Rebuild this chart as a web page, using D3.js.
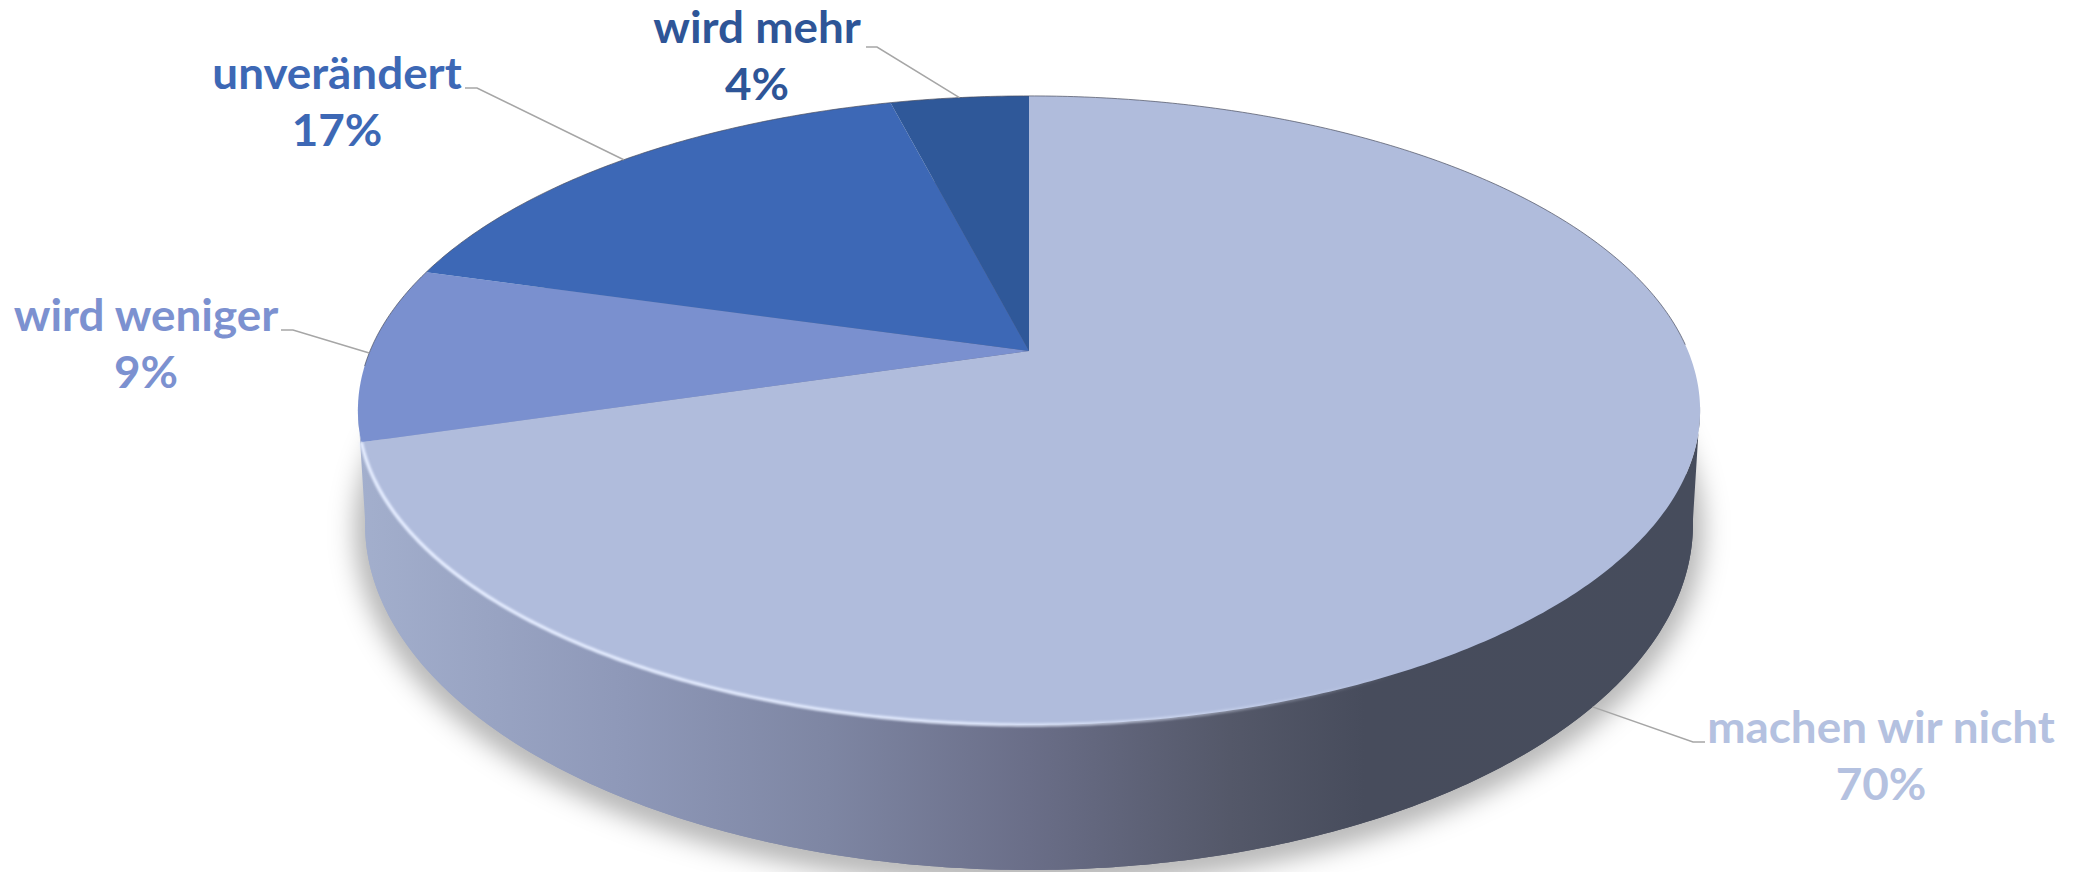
<!DOCTYPE html>
<html>
<head>
<meta charset="utf-8">
<script src="https://cdnjs.cloudflare.com/ajax/libs/d3/7.8.5/d3.min.js"></script>
<style>
  html, body { margin: 0; padding: 0; background: #fff; }
  svg { display: block; }
  text { font-family: Lato, "Open Sans", sans-serif; font-weight: 700; font-size: 43px; text-anchor: middle; }
</style>
</head>
<body>
<div id="chart"></div>
<script>
// chart data
var categories = ['machen wir nicht', 'wird weniger', 'unverändert', 'wird mehr'];
var values = [70.4, 9.0, 16.6, 4.0];
var colors = ['#b0bcdc', '#7a90cf', '#3d68b6', '#2f5899'];
var labelColors = ['#b4c1e0', '#7c91d0', '#3d68b5', '#2e5597'];

// label placement: centre x, first baseline y, elbow ends x, elbow y
var labelX = [1881, 146, 337, 757];
var labelY = [743, 331, 89, 43];
var elbowX = [[1705, 1693], [281, 293], [465, 477], [866, 877]];
var elbowY = [742, 330, 88, 47];
var leaderTurn = [4, 0, 0, 0]; // degrees past the slice middle
var textStretch = 1.065; // reference text is wider than the font

var width = 2079;
var height = 872;
var cx = 1029;
var k = 0.189; // perspective strength

// top and bottom rim of the disc
var topRim = { y0: 351, a: 659, b: 303.3 };
var bottomRim = { y0: 458.6, a: 652, b: 333.6 };

function project(rim, angle) {
  var u = Math.sin(angle);
  var v = -Math.cos(angle);
  var w = 1 - k * v;
  return [cx + rim.a * u / w, rim.y0 + rim.b * v / w];
}

function rimPoints(rim, from, to) {
  var n = Math.max(2, Math.ceil(Math.abs(to - from) / 0.01));
  return d3.range(n + 1).map(function(i) {
    return project(rim, from + (to - from) * i / n);
  });
}

var line = d3.line();
var tau = Math.PI * 2;

var svg = d3.select('#chart')
  .append('svg')
  .attr('width', width)
  .attr('height', height);

var defs = svg.append('defs');

defs.append('filter').attr('id', 'soft')
  .attr('x', '-10%').attr('y', '-10%').attr('width', '120%').attr('height', '120%')
  .append('feGaussianBlur').attr('stdDeviation', 12);

defs.append('filter').attr('id', 'rimBlur')
  .attr('filterUnits', 'userSpaceOnUse')
  .attr('x', 0).attr('y', 0).attr('width', width).attr('height', height)
  .append('feGaussianBlur').attr('stdDeviation', 0.8);

var wallGrad = defs.append('linearGradient').attr('id', 'wall')
  .attr('gradientUnits', 'userSpaceOnUse')
  .attr('x1', 358).attr('x2', 1700).attr('y1', 0).attr('y2', 0);
[[0, '#a3afcd'], [0.2, '#8e98b8'], [0.35, '#7e86a3'], [0.5, '#6a6e88'], [0.65, '#545869'], [0.75, '#474c5c'], [1, '#464c5c']]
  .forEach(function(s) {
    wallGrad.append('stop').attr('offset', s[0]).attr('stop-color', s[1]);
  });

var rimGrad = defs.append('linearGradient').attr('id', 'rimLight')
  .attr('gradientUnits', 'userSpaceOnUse')
  .attr('x1', 360).attr('x2', 1400).attr('y1', 0).attr('y2', 0);
rimGrad.append('stop').attr('offset', 0).attr('stop-color', '#e4ecff').attr('stop-opacity', 1);
rimGrad.append('stop').attr('offset', 0.6).attr('stop-color', '#e4ecff').attr('stop-opacity', 0.9);
rimGrad.append('stop').attr('offset', 1).attr('stop-color', '#e4ecff').attr('stop-opacity', 0);

// shadow under the disc
svg.append('path')
  .attr('d', line(rimPoints(bottomRim, 0, tau)) + 'Z')
  .attr('transform', 'translate(0,6)')
  .attr('fill', '#000')
  .attr('fill-opacity', 0.2)
  .attr('stroke', '#000')
  .attr('stroke-opacity', 0.2)
  .attr('stroke-width', 26)
  .attr('filter', 'url(#soft)');

// side wall
var wallFrom = 1.75;
var wallTo = tau - 1.75;
svg.append('path')
  .attr('d', line(rimPoints(bottomRim, 0, tau)) + 'Z')
  .attr('fill', 'url(#wall)');
svg.append('path')
  .attr('d', line(rimPoints(topRim, wallFrom, wallTo).concat(rimPoints(bottomRim, wallTo, wallFrom))) + 'Z')
  .attr('fill', 'url(#wall)');

// top face
var pie = d3.pie().sort(null).value(function(d) { return d; });
var slices = pie(values);

svg.selectAll('path.slice')
  .data(slices)
  .enter()
  .append('path')
  .attr('class', 'slice')
  .attr('d', function(d) {
    return line([[cx, topRim.y0]].concat(rimPoints(topRim, d.startAngle, d.endAngle))) + 'Z';
  })
  .attr('fill', function(d, i) { return colors[i]; });

// thin dark edge round the back, light edge round the front
svg.append('path')
  .attr('d', line(rimPoints(topRim, tau - 1.62, tau + 1.55)))
  .attr('fill', 'none')
  .attr('stroke', '#4a4f60')
  .attr('stroke-opacity', 0.7)
  .attr('stroke-width', 1);

svg.append('path')
  .attr('d', line(rimPoints(topRim, slices[0].endAngle, 1.2)))
  .attr('fill', 'none')
  .attr('stroke', 'url(#rimLight)')
  .attr('stroke-width', 3.5)
  .attr('filter', 'url(#rimBlur)');

// leader lines
svg.selectAll('path.leader')
  .data(slices)
  .enter()
  .append('path')
  .attr('class', 'leader')
  .attr('d', function(d, i) {
    var mid = (d.startAngle + d.endAngle) / 2 + leaderTurn[i] * Math.PI / 180;
    var end = project(i === 0 ? bottomRim : topRim, mid);
    return line([[elbowX[i][0], elbowY[i]], [elbowX[i][1], elbowY[i]], end]);
  })
  .attr('fill', 'none')
  .attr('stroke', '#a6a6a6')
  .attr('stroke-width', 1.5);

// labels
var labels = svg.selectAll('g.label')
  .data(slices)
  .enter()
  .append('g')
  .attr('class', 'label')
  .attr('fill', function(d, i) { return labelColors[i]; });

labels.append('text')
  .attr('transform', function(d, i) {
    return 'translate(' + labelX[i] + ',' + labelY[i] + ') scale(' + textStretch + ',1)';
  })
  .text(function(d, i) { return categories[i]; });

labels.append('text')
  .attr('transform', function(d, i) {
    return 'translate(' + labelX[i] + ',' + (labelY[i] + 57) + ') scale(' + textStretch + ',1)';
  })
  .text(function(d) { return Math.round(d.value) + '%'; });
</script>
</body>
</html>
